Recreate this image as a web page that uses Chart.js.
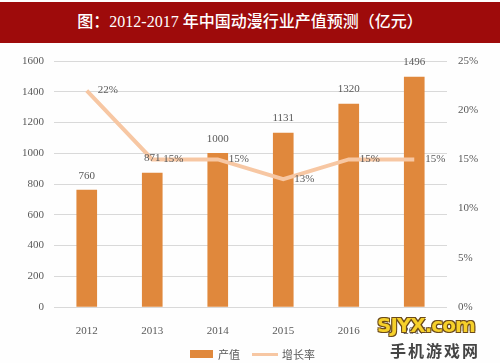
<!DOCTYPE html>
<html>
<head>
<meta charset="utf-8">
<script src="https://cdn.jsdelivr.net/npm/chart.js@4.4.1/dist/chart.umd.min.js"></script>
<style>
  html, body { margin: 0; padding: 0; background: #fefefe; }
  #wrap { position: relative; width: 500px; height: 363px; overflow: hidden; }
  #chart { position: absolute; left: 0; top: 0; }
  .title {
    position: absolute; left: 0; top: 2px; width: 500px; height: 41px;
    background: #9e0b0b; color: #fff; text-align: center;
    font: 500 16px "Liberation Serif", "Noto Sans CJK SC", serif; line-height: 40px;
  }
  .legend { position: absolute; top: 344px; font: 11px "Noto Sans CJK SC", sans-serif; color: #595959; }
  .legend span { display: inline-block; vertical-align: middle; }
  .wm1 {
    position: absolute; left: 377px; top: 313px; font: bold 20px "DejaVu Sans", sans-serif;
    color: #f6d02a; letter-spacing: -1px;
    text-shadow: -1px -1px 0 #6b4a1a, 1px -1px 0 #6b4a1a, -1px 1px 0 #6b4a1a, 1px 1px 0 #6b4a1a;
  }
  .wm2 {
    position: absolute; left: 390px; top: 338px; font: bold 16px "Noto Sans CJK SC", sans-serif;
    color: #444; letter-spacing: 2px;
  }
</style>
</head>
<body>
<div id="wrap">
  <canvas id="chart" width="500" height="363"></canvas>
  <div class="title">图：2012-2017 年中国动漫行业产值预测（亿元）</div>
  <div class="legend" style="left:190px">
    <span style="width:23px;height:8px;background:#e0883c;margin-right:5px"></span><span>产值</span>
  </div>
  <div class="legend" style="left:252px">
    <span style="width:26px;height:3px;background:#f7c7a3;margin-right:4px"></span><span>增长率</span>
  </div>
  <div class="wm1">SJYX.com</div>
  <div class="wm2">手机游戏网</div>
</div>
<script>
// data
const years = ['2012', '2013', '2014', '2015', '2016', '2017'];
const outputValues = [760, 871, 1000, 1131, 1320, 1496];   // 产值 (亿元)
const growthRates = [22, 15, 15, 13, 15, 15];              // 增长率 (%)

const labelFont = '11px "Liberation Serif", serif';
const labelColor = '#595959';

// draws value labels: above bars, to the right of line points
const valueLabels = {
  id: 'valueLabels',
  afterDatasetsDraw(chart) {
    const ctx = chart.ctx;
    ctx.save();
    ctx.font = labelFont;
    ctx.fillStyle = labelColor;
    chart.getDatasetMeta(1).data.forEach((bar, i) => {
      ctx.textAlign = 'center';
      ctx.textBaseline = 'bottom';
      ctx.fillText(String(outputValues[i]), bar.x, bar.y - 9);
    });
    chart.getDatasetMeta(0).data.forEach((pt, i) => {
      ctx.textAlign = 'left';
      ctx.textBaseline = 'middle';
      ctx.fillText(growthRates[i] + '%', pt.x + 11, pt.y);
    });
    ctx.restore();
  }
};

new Chart(document.getElementById('chart'), {
  data: {
    labels: years,
    datasets: [
      {
        type: 'line',
        label: '增长率',
        data: growthRates,
        yAxisID: 'y2',
        borderColor: '#f7c7a3',
        borderWidth: 4,
        pointRadius: 0,
        tension: 0,
        order: 0
      },
      {
        type: 'bar',
        label: '产值',
        data: outputValues,
        yAxisID: 'y',
        backgroundColor: '#e0883c',
        barThickness: 20,
        order: 1
      }
    ]
  },
  options: {
    responsive: false,
    animation: false,
    layout: { padding: { top: 61, left: 0, right: 0, bottom: 0 } },
    plugins: { legend: { display: false }, tooltip: { enabled: false } },
    scales: {
      x: {
        grid: { display: false },
        border: { display: false },
        ticks: { font: { family: '"Liberation Serif", serif', size: 11 }, color: labelColor, padding: 10 },
        afterFit(s) { s.height = 56; }
      },
      y: {
        position: 'left',
        min: 0, max: 1600,
        ticks: { stepSize: 200, callback: v => String(v), font: { family: '"Liberation Serif", serif', size: 11 }, color: labelColor, padding: 10 },
        grid: { color: '#d9d9d9', drawTicks: false },
        border: { display: false },
        afterFit(s) { s.width = 54; }
      },
      y2: {
        position: 'right',
        min: 0, max: 25,
        ticks: { stepSize: 5, callback: v => v + '%', font: { family: '"Liberation Serif", serif', size: 11 }, color: labelColor, padding: 11 },
        grid: { display: false, drawTicks: false },
        border: { display: false },
        afterFit(s) { s.width = 53; }
      }
    }
  },
  plugins: [valueLabels]
});
</script>
</body>
</html>
